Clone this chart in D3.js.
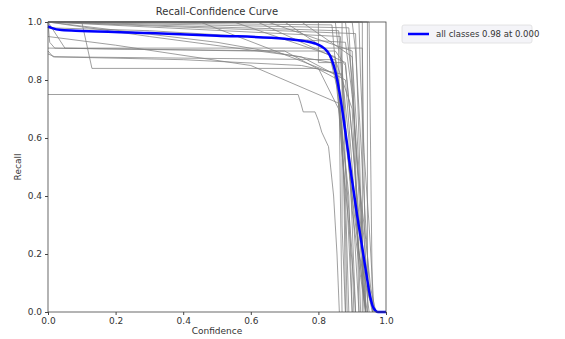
<!DOCTYPE html>
<html><head><meta charset="utf-8">
<script src="https://cdn.jsdelivr.net/npm/d3@7"></script>
<style>body{margin:0;background:#fff}text{font-family:"DejaVu Sans",sans-serif;fill:#333}</style>
</head><body><svg id="c" width="565" height="339"></svg>
<script>
const xTicks = [0, 0.2, 0.4, 0.6, 0.8, 1.0];
const yTicks = [0, 0.2, 0.4, 0.6, 0.8, 1.0];
const legendLabel = "all classes 0.98 at 0.000";
const allClasses = [[0,0.985],[0.01,0.98],[0.04,0.972],[0.1,0.969],[0.3,0.962],[0.5,0.953],[0.7,0.942],[0.76,0.934],[0.79,0.926],[0.81,0.915],[0.825,0.9],[0.838,0.875],[0.85,0.83],[0.862,0.76],[0.874,0.67],[0.887,0.56],[0.9,0.45],[0.915,0.33],[0.93,0.22],[0.942,0.13],[0.952,0.06],[0.96,0.022],[0.968,0.006],[0.976,0],[1,0]];
const classCurves = [
 [[0,1],[0.005,0.93],[0.02,0.91],[0.6,0.9],[0.85,0.9],[0.88,0.85],[0.9,0.6],[0.92,0.3],[0.935,0.05],[0.94,0]],
 [[0,1],[0.05,0.91],[0.8,0.91],[0.93,0.91],[0.935,0.5],[0.94,0]],
 [[0,0.9],[0.015,0.88],[0.4,0.87],[0.75,0.85],[0.87,0.82],[0.89,0.6],[0.9,0.3],[0.91,0]],
 [[0,1],[0.1,1],[0.13,0.84],[0.8,0.84],[0.86,0.7],[0.88,0.4],[0.89,0]],
 [[0,0.75],[0.74,0.75],[0.748,0.72],[0.755,0.69],[0.79,0.69],[0.8,0.66],[0.81,0.62],[0.83,0.57],[0.845,0.4],[0.855,0.2],[0.862,0]],
 [[0,1],[0.55,1],[0.85,0.88],[0.87,0.7],[0.9,0.4],[0.92,0]],
 [[0,1],[0.62,1],[0.88,0.86],[0.9,0.6],[0.93,0.2],[0.95,0]],
 [[0,1],[0.7,1],[0.83,0.9],[0.86,0.75],[0.89,0.4],[0.9,0]],
 [[0,1],[0.8,1],[0.8,0.86],[0.87,0.86],[0.88,0.5],[0.9,0]],
 [[0,1],[0.85,1],[0.86,0.9],[0.865,0.4],[0.87,0]],
 [[0,1],[0.93,1],[0.93,0]],
 [[0,1],[0.945,1],[0.945,0]],
 [[0,1],[0.3,0.95],[0.75,0.88],[0.88,0.8],[0.9,0.5],[0.92,0.2],[0.94,0]],
 [[0,0.95],[0.2,0.92],[0.6,0.85],[0.86,0.72],[0.88,0.5],[0.9,0.2],[0.905,0]],
 [[0,1],[0.45,1],[0.85,0.82],[0.87,0.6],[0.88,0.3],[0.885,0]],
 [[0,1],[0.9,1],[0.91,0.9],[0.93,0.5],[0.95,0.1],[0.96,0]],
 [[0,1],[0.88,1],[0.9,0.8],[0.92,0.4],[0.94,0]],
 [[0,0.91],[0.7,0.9],[0.86,0.8],[0.875,0.5],[0.88,0]],
 [[0,1],[0.5,0.93],[0.84,0.86],[0.86,0.78],[0.9,0.45],[0.93,0.1],[0.945,0]],
 [[0,1],[0.87,1],[0.87,0.3],[0.88,0]],
 [[0,1],[0.95,1],[0.955,0.5],[0.96,0]],
 [[0,1],[0.91,0.96],[0.92,0.6],[0.93,0.2],[0.935,0]],
 [[0,0.98],[0.3,0.97],[0.88,0.93],[0.9,0.75],[0.92,0.45],[0.95,0.05],[0.96,0]],
 [[0,1],[0.65,1],[0.9,0.9],[0.91,0.5],[0.925,0]],
 [[0,1],[0.75,1],[0.9,0.88],[0.915,0.6],[0.93,0.25],[0.94,0]],
 [[0,0.89],[0.02,0.88],[0.85,0.87],[0.9,0.7],[0.915,0.3],[0.92,0]],
 [[0,1],[0.86,0.97],[0.875,0.7],[0.895,0.45],[0.92,0.2],[0.95,0.05],[0.965,0]],
 [[0,1],[0.89,0.98],[0.9,0.75],[0.915,0.5],[0.94,0.25],[0.955,0.08],[0.97,0]],
 [[0,1],[0.84,0.99],[0.855,0.8],[0.87,0.55],[0.89,0.3],[0.905,0.1],[0.91,0]],
 [[0,1],[0.92,1],[0.925,0.8],[0.935,0.55],[0.95,0.3],[0.96,0.1],[0.965,0]],
 [[0,1],[0.865,0.95],[0.88,0.65],[0.9,0.35],[0.925,0.12],[0.94,0]]
];

const svg = d3.select("#c");
const m = {l:48, r:386, t:22, b:312};
const x = d3.scaleLinear().domain([0,1]).range([m.l, m.r]);
const y = d3.scaleLinear().domain([0,1]).range([m.b, m.t]);
const line = d3.line().x(d=>x(d[0])).y(d=>y(d[1]));

const g = svg.append("g");
g.selectAll("path.cls").data(classCurves).enter().append("path")
 .attr("class","cls").attr("d", line).attr("fill","none")
 .attr("stroke","#808080").attr("stroke-width",1).attr("stroke-opacity",0.75);
g.append("path").datum(allClasses).attr("d", d3.line().x(d=>x(d[0])).y(d=>y(d[1])).curve(d3.curveMonotoneX))
 .attr("fill","none").attr("stroke","#0000ff").attr("stroke-width",2.5);

svg.append("rect").attr("x",m.l).attr("y",m.t).attr("width",m.r-m.l).attr("height",m.b-m.t)
 .attr("fill","none").attr("stroke","#444").attr("stroke-width",0.8);

const xa = svg.append("g").attr("transform",`translate(0,${m.b})`)
 .call(d3.axisBottom(x).tickValues(xTicks).tickFormat(d3.format(".1f")).tickSize(3).tickSizeOuter(0));
const ya = svg.append("g").attr("transform",`translate(${m.l},0)`)
 .call(d3.axisLeft(y).tickValues(yTicks).tickFormat(d3.format(".1f")).tickSize(3).tickSizeOuter(0));
[xa,ya].forEach(a=>{a.select(".domain").remove();a.selectAll("line").attr("stroke","#444");
 a.selectAll("text").attr("font-size",9).attr("fill","#333").style("font-family","DejaVu Sans");});

svg.append("text").attr("x",(m.l+m.r)/2).attr("y",15).attr("text-anchor","middle").attr("font-size",10).text("Recall-Confidence Curve");
svg.append("text").attr("x",(m.l+m.r)/2).attr("y",334).attr("text-anchor","middle").attr("font-size",9).text("Confidence");
svg.append("text").attr("transform",`translate(21,${(m.t+m.b)/2}) rotate(-90)`).attr("text-anchor","middle").attr("font-size",9).text("Recall");

const lg = svg.append("g");
lg.append("rect").attr("x",402).attr("y",25).attr("width",130).attr("height",18).attr("rx",2)
 .attr("fill","#f4f4f8").attr("stroke","#ddd").attr("stroke-width",0.8);
lg.append("line").attr("x1",408).attr("x2",429).attr("y1",34).attr("y2",34).attr("stroke","#0000ff").attr("stroke-width",2.5);
lg.append("text").attr("x",436).attr("y",37).attr("font-size",8.5).text(legendLabel);
</script></body></html>
